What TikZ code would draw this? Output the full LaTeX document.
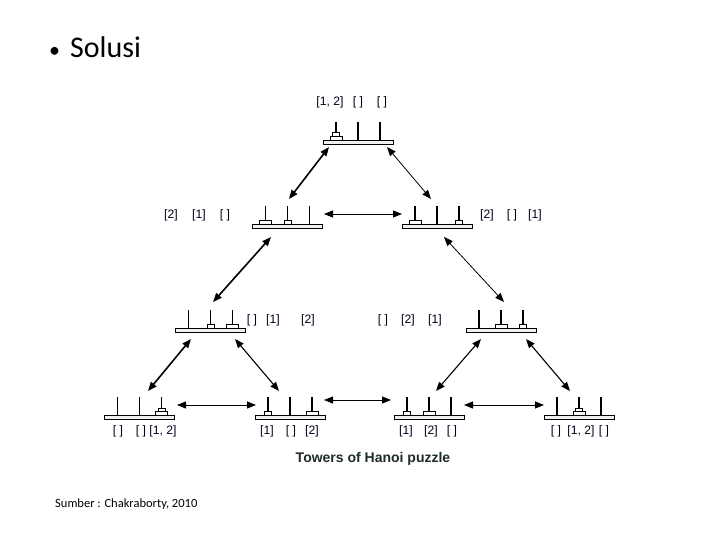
\documentclass[tikz,border=0pt]{standalone}
\usepackage{fontspec}
\setmainfont{Liberation Sans}
\newfontfamily\calibri{Carlito}
\usetikzlibrary{arrows.meta}
\tikzset{
  board/.style={draw=black, fill=gray!12, line width=0.7pt, minimum width=70pt, minimum height=4pt, inner sep=0pt},
  peg/.style={line width=1.2pt, line cap=butt},
  disk/.style={draw=black, fill=white, line width=0.6pt},
  lbl/.style={font=\fontsize{12.2}{14}\selectfont, inner sep=0pt, text=black!90!blue},
  conn/.style={{Triangle[length=9pt,width=7pt]}-{Triangle[length=9pt,width=7pt]}, line width=0.8pt},
  connmid/.style={conn, line width=1.1pt},
  connthick/.style={conn, line width=1.6pt},
}
\newcommand\hboard[3]{%
  \node[board, anchor=north] (#1) at (#2,#3) {};
  \foreach \dx in {-22,0,22} \draw[peg] (#2+\dx,#3) -- (#2+\dx,#3-18);
}
% cx, top, peg offset, width, level
\newcommand\hdisk[5]{%
  \draw[disk] ({#1+#3-#4/2},{#2-3.6*#5}) rectangle ++(#4,-3.6);
}
\begin{document}
\begin{tikzpicture}[x=1pt,y=-1pt]
\useasboundingbox[fill=white] (0,0) rectangle (720,540);

% title
\node[anchor=base west, inner sep=0pt, font=\calibri\fontsize{30}{34}\selectfont] (title) at (49,58) {{\fontsize{22}{24}\selectfont\textbullet}\hspace{10pt}Solusi};

% boards
\hboard{b0}{358}{140}
\hdisk{358}{140}{-22}{12}{0}\hdisk{358}{140}{-22}{7}{1}
\hboard{b1}{287.5}{224}
\hdisk{287.5}{224}{-22}{12}{0}\hdisk{287.5}{224}{0}{7}{0}
\hboard{b2}{437}{224}
\hdisk{437}{224}{-22}{12}{0}\hdisk{437}{224}{22}{7}{0}
\hboard{b3}{210.5}{328}
\hdisk{210.5}{328}{0}{7}{0}\hdisk{210.5}{328}{22}{12}{0}
\hboard{b4}{501}{328}
\hdisk{501}{328}{0}{12}{0}\hdisk{501}{328}{22}{7}{0}
\hboard{b5}{139.5}{415}
\hdisk{139.5}{415}{22}{12}{0}\hdisk{139.5}{415}{22}{7}{1}
\hboard{b6}{290}{415}
\hdisk{290}{415}{-22}{7}{0}\hdisk{290}{415}{22}{12}{0}
\hboard{b7}{429}{415}
\hdisk{429}{415}{-22}{7}{0}\hdisk{429}{415}{0}{12}{0}
\hboard{b8}{579}{415}
\hdisk{579}{415}{0}{12}{0}\hdisk{579}{415}{0}{7}{1}

% labels
\node[lbl] (l0a) at (330,102) {[1, 2]};
\node[lbl] (l0b) at (358,102) {[ ]};
\node[lbl] (l0c) at (382,102) {[ ]};
\node[lbl] (l1a) at (171,215) {[2]};
\node[lbl] (l1b) at (199,215) {[1]};
\node[lbl] (l1c) at (225,215) {[ ]};
\node[lbl] (l2a) at (487,215) {[2]};
\node[lbl] (l2b) at (512,215) {[ ]};
\node[lbl] (l2c) at (535,215) {[1]};
\node[lbl] (l3a) at (252,320) {[ ]};
\node[lbl] (l3b) at (273,320) {[1]};
\node[lbl] (l3c) at (308,320) {[2]};
\node[lbl] (l4a) at (383,320) {[ ]};
\node[lbl] (l4b) at (408,320) {[2]};
\node[lbl] (l4c) at (435,320) {[1]};
\node[lbl] (l5a) at (118,431) {[ ]};
\node[lbl] (l5b) at (141,431) {[ ]};
\node[lbl] (l5c) at (163,431) {[1, 2]};
\node[lbl] (l6a) at (267,431) {[1]};
\node[lbl] (l6b) at (291,431) {[ ]};
\node[lbl] (l6c) at (312,431) {[2]};
\node[lbl] (l7a) at (406,431) {[1]};
\node[lbl] (l7b) at (431,431) {[2]};
\node[lbl] (l7c) at (452,431) {[ ]};
\node[lbl] (l8a) at (556,431) {[ ]};
\node[lbl] (l8b) at (581,431) {[1, 2]};
\node[lbl] (l8c) at (604,431) {[ ]};

% connector end points
\coordinate (a1s) at (329,147); \coordinate (a1e) at (289,199);
\coordinate (a2s) at (387,147); \coordinate (a2e) at (431,199);
\coordinate (a3s) at (324,214); \coordinate (a3e) at (402,214);
\coordinate (a4s) at (271,237); \coordinate (a4e) at (213,302);
\coordinate (a5s) at (444,237); \coordinate (a5e) at (504,302);
\coordinate (a6s) at (191,339); \coordinate (a6e) at (148,391);
\coordinate (a7s) at (235,339); \coordinate (a7e) at (279,391);
\coordinate (a8s) at (177,405); \coordinate (a8e) at (256,405);
\coordinate (a9s) at (481,339); \coordinate (a9e) at (436,391);
\coordinate (a10s) at (526,339); \coordinate (a10e) at (570,391);
\coordinate (a11s) at (464,405); \coordinate (a11e) at (544,405);
\coordinate (a12s) at (324,400); \coordinate (a12e) at (391,400);

\draw[connthick] (a1s) -- (a1e);
\draw[conn] (a2s) -- (a2e);
\draw[conn] (a3s) -- (a3e);
\draw[connthick] (a4s) -- (a4e);
\draw[conn] (a5s) -- (a5e);
\draw[connthick] (a6s) -- (a6e);
\draw[connmid] (a7s) -- (a7e);
\draw[conn] (a8s) -- (a8e);
\draw[connmid] (a9s) -- (a9e);
\draw[connmid] (a10s) -- (a10e);
\draw[conn] (a11s) -- (a11e);
\draw[conn] (a12s) -- (a12e);

% caption
\node[font=\bfseries\fontsize{14}{16}\selectfont, text={rgb,255:red,28;green,43;blue,43}, inner sep=0pt] (cap) at (373,459) {Towers of Hanoi puzzle};
\node[anchor=base west, inner sep=0pt, font=\calibri\fontsize{12.5}{14}\selectfont] (src) at (55,507) {Sumber : Chakraborty, 2010};
\end{tikzpicture}
\end{document}
